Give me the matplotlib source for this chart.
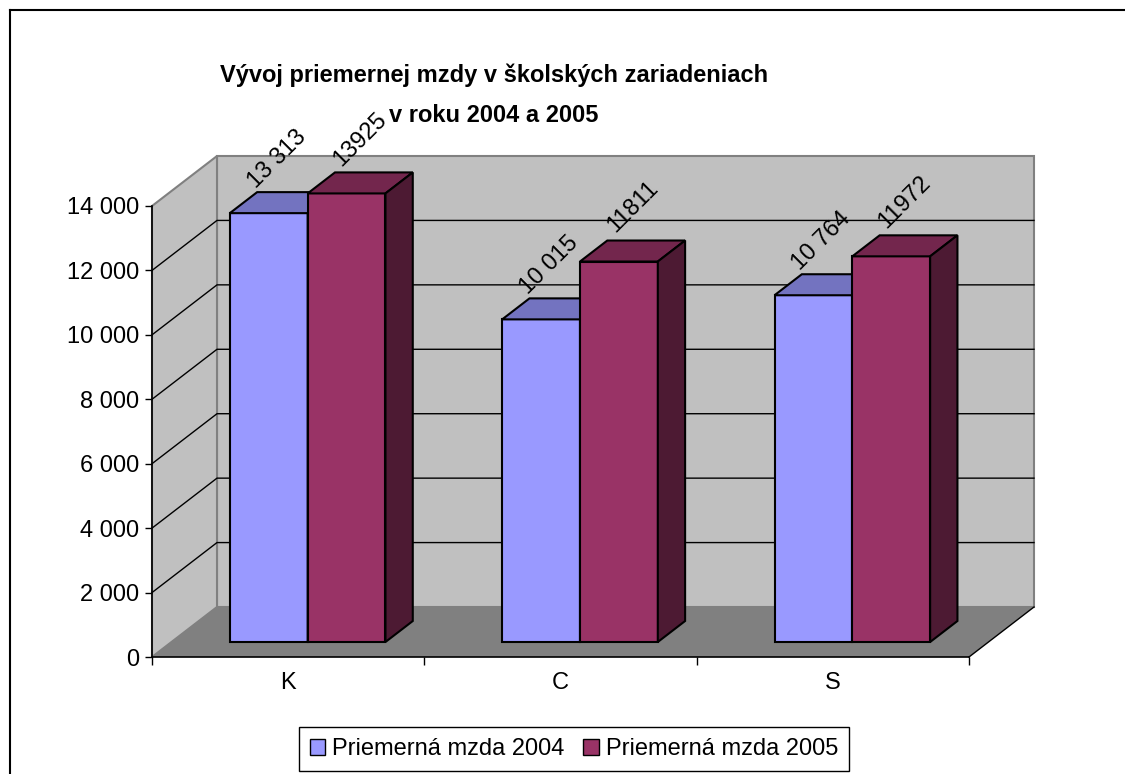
import matplotlib.pyplot as plt
from matplotlib.patches import Polygon, Patch
from matplotlib.lines import Line2D
from matplotlib.ticker import FuncFormatter

plt.rcParams['font.family'] = ['Liberation Sans', 'DejaVu Sans']

categories = ['K', 'C', 'S']
mzda_2004 = [13313, 10015, 10764]
mzda_2005 = [13925, 11811, 11972]
series_names = ['Priemerná mzda 2004', 'Priemerná mzda 2005']
yticks = [0, 2000, 4000, 6000, 8000, 10000, 12000, 14000]

# face colours: front, top, side
col_2004 = ('#9999ff', '#7373c0', '#4d4d80')
col_2005 = ('#993366', '#73264d', '#4d1a33')

W, H = 1125, 774
fig = plt.figure(figsize=(W / 100, H / 100), dpi=100)
ax = fig.add_axes([152 / W, 117 / H, 817 / W, 451 / H])
ax.set_xlim(0, 3)
ax.set_ylim(0, 14000)
ax.patch.set_visible(False)

# 3d depth in data units
DX = 65 / 817 * 3
DY = 50 / 451 * 14000
f0, f1 = 0.30, 0.72
bw = 1 / 3.5  # gap width 150%

# walls and floor
top = yticks[-1]
ax.add_patch(Polygon([(DX, DY), (3 + DX, DY), (3 + DX, top + DY), (DX, top + DY)],
                     facecolor='#c0c0c0', edgecolor='#808080', lw=1.5, clip_on=False, zorder=0.5))
ax.add_patch(Polygon([(0, 0), (DX, DY), (DX, top + DY), (0, top)],
                     facecolor='#c0c0c0', edgecolor='#808080', lw=1.5, clip_on=False, zorder=0.5))
ax.add_patch(Polygon([(0, 0), (3, 0), (3 + DX, DY), (DX, DY)],
                     facecolor='#808080', edgecolor='none', clip_on=False, zorder=0.6))
ax.plot([3, 3 + DX], [0, DY], color='black', lw=1, clip_on=False, zorder=0.7)

for t in yticks[1:-1]:
    ax.plot([0, DX, 3 + DX], [t, t + DY, t + DY], color='black', lw=1, clip_on=False, zorder=0.8)

x = list(range(len(categories)))
for k, (vals, cols) in enumerate([(mzda_2004, col_2004), (mzda_2005, col_2005)]):
    x0s = [i + 0.5 - bw + k * bw for i in x]
    ax.bar([a + bw / 2 + f0 * DX for a in x0s], vals, width=bw, bottom=f0 * DY,
           color=cols[0], edgecolor='black', lw=1.5, clip_on=False, zorder=2 + k)
    for a, v in zip(x0s, vals):
        b = a + bw
        ax.add_patch(Polygon([(a + f0 * DX, v + f0 * DY), (b + f0 * DX, v + f0 * DY),
                              (b + f1 * DX, v + f1 * DY), (a + f1 * DX, v + f1 * DY)],
                             facecolor=cols[1], edgecolor='black', lw=1.5, clip_on=False, zorder=2 + k))
        ax.add_patch(Polygon([(b + f0 * DX, f0 * DY), (b + f1 * DX, f1 * DY),
                              (b + f1 * DX, v + f1 * DY), (b + f0 * DX, v + f0 * DY)],
                             facecolor=cols[2], edgecolor='black', lw=1.5, clip_on=False, zorder=2 + k))
        txt = f"{v:,}".replace(",", " ") if k == 0 else str(v)
        ax.annotate(txt, ((a + b) / 2 + (f0 + f1) / 2 * DX, v + f1 * DY),
                    xytext=(-4 if k == 0 else 0, 24), textcoords='offset points', rotation=45,
                    ha='center', va='center', fontsize=17, zorder=5, annotation_clip=False)

# axes
for s in ['top', 'right']:
    ax.spines[s].set_visible(False)
for s in ['left', 'bottom']:
    ax.spines[s].set_linewidth(1.2)
ax.set_yticks(yticks)
ax.yaxis.set_major_formatter(FuncFormatter(lambda v, p: f"{int(v):,}".replace(",", " ")))
ax.tick_params(axis='y', length=5, width=1, pad=4, labelsize=17)
ax.set_xticks([0, 1, 2, 3])
ax.set_xticklabels([])
ax.tick_params(axis='x', which='major', length=6, width=1)
ax.set_xticks([0.5, 1.5, 2.5], minor=True)
ax.set_xticklabels(categories, minor=True)
ax.tick_params(axis='x', which='minor', length=0, pad=11, labelsize=17)

fig.text(494 / W, 1 - 95 / H, 'Vývoj priemernej mzdy v školských zariadeniach\nv roku 2004 a 2005',
         ha='center', va='center', fontsize=17, fontweight='bold', linespacing=1.95)

handles = [Patch(facecolor=col_2004[0], edgecolor='black'),
           Patch(facecolor=col_2005[0], edgecolor='black')]
leg = fig.legend(handles, series_names, loc='center', bbox_to_anchor=(574 / W, 1 - 749 / H),
                 ncol=2, fontsize=17, frameon=True, fancybox=False, edgecolor='black',
                 framealpha=1, handlelength=0.65, handleheight=0.65, handletextpad=0.3,
                 columnspacing=0.8, borderpad=0.45)
leg.get_frame().set_linewidth(1)

# outer chart border
fig.add_artist(Line2D([10 / W, 10 / W], [0, 1 - 10 / H], color='black', lw=1.5))
fig.add_artist(Line2D([10 / W, 1], [1 - 10 / H, 1 - 10 / H], color='black', lw=1.5))

fig.savefig('out.png', dpi=100)
